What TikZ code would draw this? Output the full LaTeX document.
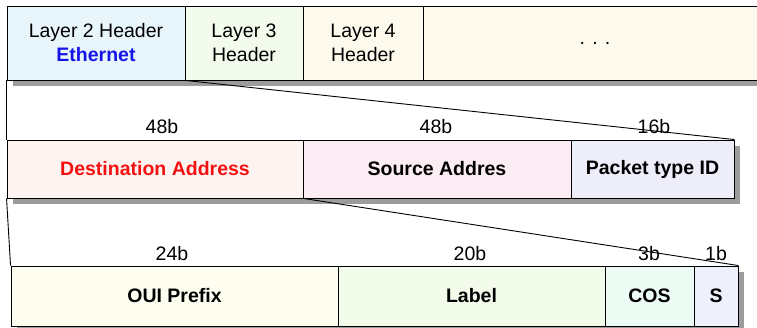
\documentclass[tikz,border=0pt]{standalone}
\usepackage{fontspec}
\setmainfont{Liberation Sans}
\usetikzlibrary{shadows}
\definecolor{shadowgray}{HTML}{9C9C9C}
\definecolor{cL2}{HTML}{E8F6FC}
\definecolor{cL3}{HTML}{F2FBEC}
\definecolor{cL4}{HTML}{FDF9EC}
\definecolor{cDA}{HTML}{FDF4F1}
\definecolor{cSA}{HTML}{FCECF3}
\definecolor{cPT}{HTML}{EEEEFB}
\definecolor{cOUI}{HTML}{FDFDF0}
\definecolor{cLab}{HTML}{F3FBEB}
\definecolor{cCOS}{HTML}{ECFBF3}
\definecolor{cS}{HTML}{EEF0FB}
\definecolor{ethblue}{HTML}{1414E8}
\definecolor{dared}{HTML}{F21010}
\begin{document}
\begin{tikzpicture}[x=1pt,y=-1pt,
  field/.style={draw=black,line width=0.9pt,rectangle,inner sep=0pt,align=center,
    font=\fontsize{19.5}{24}\selectfont,
    drop shadow={shadow xshift=6pt,shadow yshift=-6pt,fill=shadowgray,opacity=1}},
  boldfield/.style={field,font=\fontsize{19.5}{24}\selectfont\bfseries},
  bits/.style={anchor=base,inner sep=0pt,font=\fontsize{19.5}{24}\selectfont},
  conn/.style={draw=black,line width=0.9pt}]
\useasboundingbox (0,0) rectangle (757,328);
\begin{scope}
\clip (0,0) rectangle (757,328);
% Row 1
\node[field,fill=cL2,minimum width=178pt,minimum height=74pt] (l2) at (96,43) {Layer 2 Header\\\textcolor{ethblue}{\bfseries Ethernet}};
\node[field,fill=cL3,minimum width=118pt,minimum height=74pt] (l3) at (244,43) {Layer 3\\Header};
\node[field,fill=cL4,minimum width=120pt,minimum height=74pt] (l4) at (363,43) {Layer 4\\Header};
\node[field,fill=cL4,minimum width=344pt,minimum height=74pt] (dots) at (595,43) {. . .};
% Row 2
\node[boldfield,fill=cDA,minimum width=296pt,minimum height=58pt,text=dared] (da) at (155,169) {Destination Address};
\node[boldfield,fill=cSA,minimum width=268pt,minimum height=58pt] (sa) at (437,169) {Source Addres};
\node[boldfield,fill=cPT,minimum width=163pt,minimum height=58pt] (pt) at (652.5,169) {Packet type ID};
% Row 3
\node[boldfield,fill=cOUI,minimum width=327pt,minimum height=60pt] (oui) at (174.5,296) {OUI Prefix};
\node[boldfield,fill=cLab,minimum width=267pt,minimum height=60pt] (lab) at (471.5,296) {Label};
\node[boldfield,fill=cCOS,minimum width=89pt,minimum height=60pt] (cos) at (649.5,296) {COS};
\node[boldfield,fill=cS,minimum width=44pt,minimum height=60pt] (s) at (716,296) {S};
% Bit labels
\node[bits] (b48a) at (162,134) {48b};
\node[bits] (b48b) at (436,134) {48b};
\node[bits] (b16) at (654,134) {16b};
\node[bits] (b24) at (172,261) {24b};
\node[bits] (b20) at (470,261) {20b};
\node[bits] (b3) at (649,261) {3b};
\node[bits] (b1) at (716,261) {1b};
% Connectors
\draw[conn] (l2.south west) -- (da.north west);
\draw[conn] (l2.south east) -- (pt.north east);
\draw[conn] (da.south west) -- (oui.north west);
\draw[conn] (da.south east) -- (s.north east);
\end{scope}
\end{tikzpicture}
\end{document}
